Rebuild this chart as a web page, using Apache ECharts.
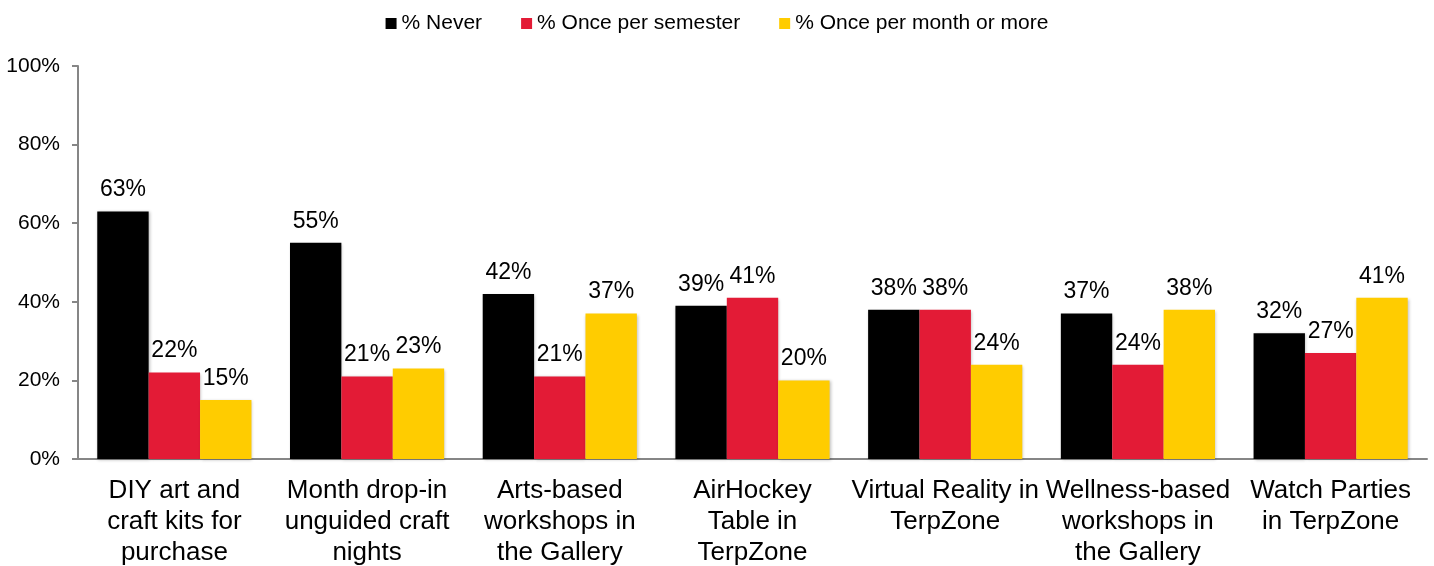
<!DOCTYPE html>
<html>
<head>
<meta charset="utf-8">
<script src="https://cdn.jsdelivr.net/npm/echarts@6/dist/echarts.min.js"></script>
<style>
  html, body { margin: 0; padding: 0; background: #fff; }
  #chart { width: 1434px; height: 566px; }
</style>
</head>
<body>
<div id="chart"></div>
<script>
const categories = [
  'DIY art and\ncraft kits for\npurchase',
  'Month drop-in\nunguided craft\nnights',
  'Arts-based\nworkshops in\nthe Gallery',
  'AirHockey\nTable in\nTerpZone',
  'Virtual Reality in\nTerpZone',
  'Wellness-based\nworkshops in\nthe Gallery',
  'Watch Parties\nin TerpZone'
]
const never = [63, 55, 42, 39, 38, 37, 32]
const oncePerSemester = [22, 21, 21, 41, 38, 24, 27]
const oncePerMonth = [15, 23, 37, 20, 24, 38, 41]
const yTicks = [0, 20, 40, 60, 80, 100]

const font = 'Arial, "Liberation Sans", sans-serif'
const chart = echarts.init(document.getElementById('chart'))

const barSeries = (name, data, color) => ({
  name: name,
  type: 'bar',
  data: data,
  barGap: '0%',
  barCategoryGap: '20%',
  itemStyle: {
    color: color,
    shadowColor: 'rgba(0,0,0,0.25)',
    shadowBlur: 3,
    shadowOffsetX: 1,
    shadowOffsetY: 1
  },
  label: {
    show: true,
    position: 'top',
    distance: 10,
    formatter: '{c}%',
    color: '#000',
    fontFamily: font,
    fontSize: 23
  }
})

chart.setOption({
  animation: false,
  textStyle: {fontFamily: font},
  legend: {
    top: 8,
    left: 'center',
    itemWidth: 11,
    itemHeight: 11,
    itemGap: 39,
    icon: 'rect',
    textStyle: {fontSize: 21, color: '#000', fontFamily: font},
    data: ['% Never', '% Once per semester', '% Once per month or more']
  },
  grid: {left: 78, right: 7, top: 66, bottom: 107, outerBoundsMode: 'none'},
  xAxis: {
    type: 'category',
    data: categories,
    axisLine: {lineStyle: {color: '#868686', width: 2}},
    axisTick: {show: false},
    axisLabel: {
      color: '#000',
      fontSize: 26,
      lineHeight: 31,
      margin: 16,
      interval: 0,
      fontFamily: font
    }
  },
  yAxis: {
    type: 'value',
    min: yTicks[0],
    max: yTicks[yTicks.length - 1],
    interval: 20,
    splitLine: {show: false},
    axisLine: {show: true, lineStyle: {color: '#868686', width: 2}},
    axisTick: {show: true, inside: false, length: 6, lineStyle: {color: '#868686', width: 2}},
    axisLabel: {
      color: '#000',
      fontSize: 21,
      margin: 18,
      fontFamily: font,
      formatter: '{value}%'
    }
  },
  series: [
    barSeries('% Never', never, '#000000'),
    barSeries('% Once per semester', oncePerSemester, '#E31B36'),
    barSeries('% Once per month or more', oncePerMonth, '#FFCC00')
  ]
})
</script>
</body>
</html>
